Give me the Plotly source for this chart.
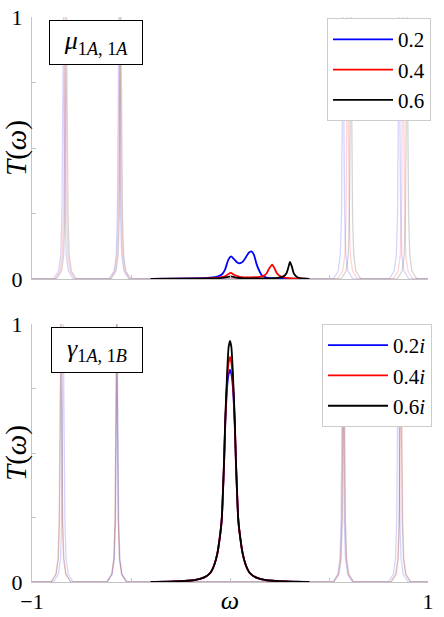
import plotly.graph_objects as go

# ---------------- data ----------------
# faded full-spectrum peaks: centre positions (omega) per series
top_fade_blue = [-0.841, -0.561, 0.571, 0.854]
top_fade_red = [-0.833, -0.556, 0.594, 0.874]
top_fade_gray = [-0.826, -0.551, 0.611, 0.894]
bot_fade_blue = [-0.842, -0.570, 0.569, 0.850]
bot_fade_red = [-0.855, -0.573, 0.573, 0.864]
bot_fade_gray = [-0.853, -0.572, 0.575, 0.862]
# shape of one faded peak (offset from centre, height)
fade_offsets = [-0.05, -0.025, -0.014, -0.008, -0.0045, -0.002, 0.0,
                0.002, 0.0045, 0.008, 0.014, 0.025, 0.05]
fade_profile = [0.0, 0.03, 0.09, 0.24, 0.5, 0.8, 1.0,
                0.8, 0.5, 0.24, 0.09, 0.03, 0.0]

# top panel, central curves (mu_{1A,1A})
top_blue_x = [-0.40, -0.20, -0.10, -0.06, -0.04, -0.025, -0.008, 0.005, 0.02,
              0.035, 0.05, 0.065, 0.08, 0.095, 0.108, 0.12, 0.135, 0.15,
              0.16, 0.185, 0.22, 0.30, 0.40]
top_blue_y = [0.0, 0.002, 0.005, 0.01, 0.018, 0.036, 0.074, 0.086, 0.076,
              0.064, 0.060, 0.066, 0.083, 0.100, 0.105, 0.094, 0.055, 0.028,
              0.015, 0.005, 0.002, 0.001, 0.0]
top_red_x = [-0.40, -0.20, -0.10, -0.05, -0.025, -0.01, 0.005, 0.02, 0.05,
             0.10, 0.15, 0.17, 0.185, 0.195, 0.213, 0.225, 0.236, 0.25,
             0.27, 0.30, 0.40]
top_red_y = [0.0, 0.001, 0.003, 0.006, 0.010, 0.018, 0.023, 0.016, 0.008,
             0.006, 0.008, 0.012, 0.022, 0.036, 0.055, 0.040, 0.023, 0.012,
             0.006, 0.003, 0.0]
top_black_x = [-0.40, -0.20, -0.10, -0.04, -0.015, 0.005, 0.025, 0.06,
               0.15, 0.24, 0.27, 0.286, 0.295, 0.303, 0.312, 0.323, 0.34,
               0.355, 0.40]
top_black_y = [0.0, 0.001, 0.002, 0.004, 0.007, 0.010, 0.006, 0.003,
               0.002, 0.004, 0.010, 0.023, 0.045, 0.065, 0.048, 0.020, 0.007,
               0.003, 0.0]

# bottom panel, central curves (gamma_{1A,1B})
bot_x = [-0.40, -0.28, -0.18, -0.13, -0.10, -0.08, -0.064, -0.052, -0.042,
         -0.030, -0.024, -0.014, -0.007, 0.0, 0.007, 0.014, 0.024, 0.030,
         0.042, 0.052, 0.064, 0.08, 0.10, 0.13, 0.18, 0.28, 0.40]
bot_blue_y = [0.0, 0.002, 0.007, 0.018, 0.035, 0.065, 0.11, 0.17, 0.24,
              0.46, 0.61, 0.76, 0.805, 0.822, 0.805, 0.76, 0.61, 0.46,
              0.24, 0.17, 0.11, 0.065, 0.035, 0.018, 0.007, 0.002, 0.0]
bot_red_y = [0.0, 0.002, 0.007, 0.018, 0.035, 0.065, 0.11, 0.17, 0.24,
             0.465, 0.62, 0.79, 0.85, 0.873, 0.85, 0.79, 0.62, 0.465,
             0.24, 0.17, 0.11, 0.065, 0.035, 0.018, 0.007, 0.002, 0.0]
bot_black_y = [0.0, 0.002, 0.007, 0.018, 0.035, 0.065, 0.11, 0.17, 0.24,
               0.47, 0.63, 0.82, 0.91, 0.935, 0.91, 0.82, 0.63, 0.47,
               0.24, 0.17, 0.11, 0.065, 0.035, 0.018, 0.007, 0.002, 0.0]

top_labels = ["0.2", "0.4", "0.6"]
bot_labels = ["0.2<i>i</i>", "0.4<i>i</i>", "0.6<i>i</i>"]
y_tickvals = [0, 1]
y_ticktext = ["0", "1"]
y_minor = [0.25, 0.5, 0.75]
x_tickvals_bot = [-1, 0, 1]
x_ticktext_bot = ["\u22121", "<span style='font-size:26px'><i>\u03c9</i></span>", "1"]
x_minor = [-0.5, 0, 0.5]

FONT = "Liberation Serif"
AX = "#c4c4c4"


def faded(centers):
    xs, ys = [-1.0], [0.0]
    for c in centers:
        xs += [c + o for o in fade_offsets]
        ys += fade_profile
    xs.append(1.0)
    ys.append(0.0)
    return xs, ys


fig = go.Figure()

fade_cols = ["rgba(0,0,255,0.17)", "rgba(255,0,0,0.17)", "rgba(0,0,0,0.17)"]
for cents, col in zip([top_fade_blue, top_fade_red, top_fade_gray], fade_cols):
    xs, ys = faded(cents)
    fig.add_trace(go.Scatter(x=xs, y=ys, mode="lines", line=dict(color=col, width=1.3),
                             showlegend=False, hoverinfo="skip", xaxis="x", yaxis="y"))
for cents, col in zip([bot_fade_blue, bot_fade_red, bot_fade_gray], fade_cols):
    xs, ys = faded(cents)
    fig.add_trace(go.Scatter(x=xs, y=ys, mode="lines", line=dict(color=col, width=1.3),
                             showlegend=False, hoverinfo="skip", xaxis="x2", yaxis="y2"))

main_cols = ["#0000ff", "#ff0000", "#000000"]
for xs, ys, col, lab in zip([top_blue_x, top_red_x, top_black_x],
                            [top_blue_y, top_red_y, top_black_y], main_cols, top_labels):
    fig.add_trace(go.Scatter(x=xs, y=ys, mode="lines", name=lab,
                             line=dict(color=col, width=1.8, shape="spline", smoothing=0.6),
                             xaxis="x", yaxis="y", legend="legend"))
for ys, col, lab in zip([bot_blue_y, bot_red_y, bot_black_y], main_cols, bot_labels):
    fig.add_trace(go.Scatter(x=bot_x, y=ys, mode="lines", name=lab,
                             line=dict(color=col, width=1.8, shape="spline", smoothing=0.5),
                             xaxis="x2", yaxis="y2", legend="legend2"))

common_x = dict(range=[-1, 1], showgrid=False, zeroline=False, showline=True,
                linecolor=AX, linewidth=1, ticks="", automargin=False,
                minor=dict(tickvals=x_minor, ticks="inside", ticklen=4, tickcolor=AX,
                           showgrid=False))
common_y = dict(range=[0, 1], showgrid=False, zeroline=False, showline=True,
                linecolor=AX, linewidth=1, ticks="", automargin=False,
                tickvals=y_tickvals, ticktext=y_ticktext, ticklabelstandoff=4,
                minor=dict(tickvals=y_minor, ticks="inside", ticklen=4, tickcolor=AX,
                           showgrid=False),
                tickfont=dict(family=FONT, size=22, color="black"),
                title=dict(text="<i>T</i>(<i>\u03c9</i>)", standoff=0,
                           font=dict(family=FONT, size=29, color="black")))

legend_common = dict(bgcolor="white", bordercolor="#cccccc", borderwidth=1,
                     font=dict(family=FONT, size=21, color="black"),
                     xanchor="right", yanchor="top", itemwidth=60,
                     tracegroupgap=0)

fig.update_layout(
    width=444, height=617,
    margin=dict(l=32, r=16, t=17, b=35),
    paper_bgcolor="white", plot_bgcolor="white",
    xaxis=dict(**common_x, domain=[0, 1], anchor="y", showticklabels=False),
    yaxis=dict(**common_y, domain=[0.5363, 1], anchor="x"),
    xaxis2=dict(**common_x, domain=[0, 1], anchor="y2", tickvals=x_tickvals_bot,
                ticktext=x_ticktext_bot, ticklabelstandoff=0,
                tickfont=dict(family=FONT, size=22, color="black")),
    yaxis2=dict(**common_y, domain=[0, 0.4566], anchor="x2"),
    legend=dict(**legend_common, x=1.0076, y=0.998),
    legend2=dict(**legend_common, x=1.0101, y=0.4566),
    annotations=[
        dict(text="<i>\u03bc</i><sub>1<i>A</i>, 1<i>A</i></sub>", xref="paper", yref="paper",
             x=0.1616, y=0.955, xanchor="center", yanchor="middle", align="center",
             showarrow=False, bgcolor="white", bordercolor="black",
             borderwidth=1, borderpad=0, width=92, height=43,
             font=dict(family=FONT, size=26, color="black")),
        dict(text="<i>\u03b3</i><sub>1<i>A</i>, 1<i>B</i></sub>", xref="paper", yref="paper",
             x=0.1641, y=0.4106, xanchor="center", yanchor="middle", align="center",
             showarrow=False, bgcolor="white", bordercolor="black",
             borderwidth=1, borderpad=0, width=90, height=44,
             font=dict(family=FONT, size=26, color="black")),
    ],
)

fig.write_html("out.html")
